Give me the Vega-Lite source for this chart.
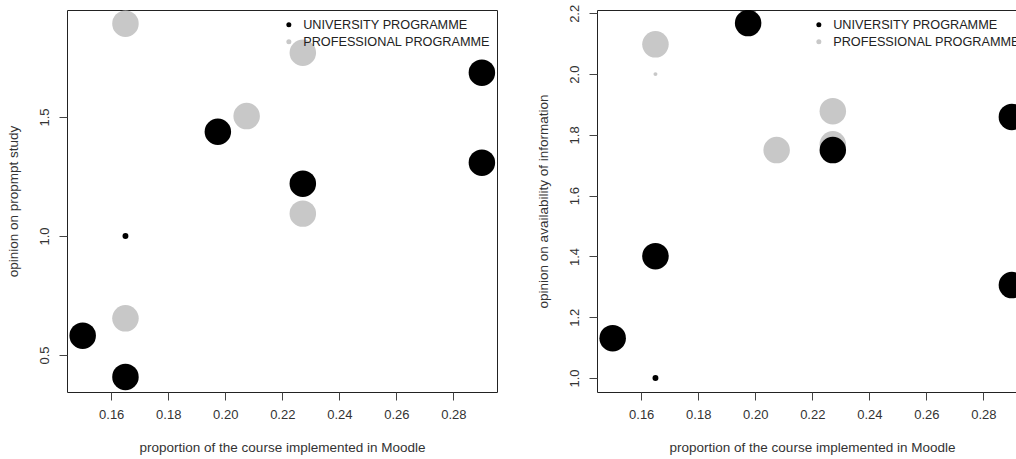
{
  "$schema": "https://vega.github.io/schema/vega-lite/v6.json",
  "padding": {"left": 5, "top": 3, "right": 0, "bottom": 0},
  "background": "white",
  "spacing": 37,
  "config": {
    "font": "Liberation Sans",
    "view": {"stroke": "#222222", "strokeWidth": 1},
    "axis": {
      "grid": false,
      "domain": false,
      "tickSize": 8,
      "tickColor": "#444444",
      "labelFont": "Liberation Sans",
      "labelFontSize": 13,
      "labelColor": "#333333",
      "titleFont": "Liberation Sans",
      "titleFontSize": 13.5,
      "titleFontWeight": "normal",
      "titleColor": "#333333",
      "labelOverlap": false,
      "labelFlush": false
    },
    "axisX": {"labelPadding": 8.5, "titlePadding": 19},
    "axisY": {"labelAngle": 270, "labelAlign": "center", "labelBaseline": "bottom", "labelPadding": 8, "titlePadding": 18},
    "legend": {
      "orient": "none",
      "legendX": 215.5,
      "legendY": 8.5,
      "title": null,
      "symbolType": "circle",
      "symbolSize": 25,
      "symbolStrokeWidth": 0,
      "labelFont": "Liberation Sans",
      "labelFontSize": 12.7,
      "labelColor": "#222222",
      "labelOffset": 8,
      "labelLimit": 400,
      "rowPadding": 3,
      "padding": 0
    }
  },
  "datasets": {
    "prompt": [
      {"proportion": 0.165, "opinion": 1.892, "programme": "PROFESSIONAL PROGRAMME", "weight": 20},
      {"proportion": 0.165, "opinion": 0.654, "programme": "PROFESSIONAL PROGRAMME", "weight": 20},
      {"proportion": 0.2075, "opinion": 1.504, "programme": "PROFESSIONAL PROGRAMME", "weight": 20},
      {"proportion": 0.2272, "opinion": 1.770, "programme": "PROFESSIONAL PROGRAMME", "weight": 20},
      {"proportion": 0.2272, "opinion": 1.094, "programme": "PROFESSIONAL PROGRAMME", "weight": 20},
      {"proportion": 0.150, "opinion": 0.581, "programme": "UNIVERSITY PROGRAMME", "weight": 20},
      {"proportion": 0.165, "opinion": 0.408, "programme": "UNIVERSITY PROGRAMME", "weight": 20},
      {"proportion": 0.165, "opinion": 1.000, "programme": "UNIVERSITY PROGRAMME", "weight": 1},
      {"proportion": 0.1974, "opinion": 1.438, "programme": "UNIVERSITY PROGRAMME", "weight": 20},
      {"proportion": 0.2272, "opinion": 1.220, "programme": "UNIVERSITY PROGRAMME", "weight": 20},
      {"proportion": 0.290, "opinion": 1.686, "programme": "UNIVERSITY PROGRAMME", "weight": 20},
      {"proportion": 0.290, "opinion": 1.308, "programme": "UNIVERSITY PROGRAMME", "weight": 20}
    ],
    "info": [
      {"proportion": 0.165, "opinion": 2.098, "programme": "PROFESSIONAL PROGRAMME", "weight": 20},
      {"proportion": 0.165, "opinion": 2.000, "programme": "PROFESSIONAL PROGRAMME", "weight": 0.45},
      {"proportion": 0.2075, "opinion": 1.750, "programme": "PROFESSIONAL PROGRAMME", "weight": 20},
      {"proportion": 0.2272, "opinion": 1.878, "programme": "PROFESSIONAL PROGRAMME", "weight": 20},
      {"proportion": 0.2272, "opinion": 1.769, "programme": "PROFESSIONAL PROGRAMME", "weight": 20},
      {"proportion": 0.150, "opinion": 1.131, "programme": "UNIVERSITY PROGRAMME", "weight": 20},
      {"proportion": 0.165, "opinion": 1.401, "programme": "UNIVERSITY PROGRAMME", "weight": 20},
      {"proportion": 0.165, "opinion": 1.000, "programme": "UNIVERSITY PROGRAMME", "weight": 1},
      {"proportion": 0.1975, "opinion": 2.168, "programme": "UNIVERSITY PROGRAMME", "weight": 20},
      {"proportion": 0.2272, "opinion": 1.750, "programme": "UNIVERSITY PROGRAMME", "weight": 20},
      {"proportion": 0.290, "opinion": 1.859, "programme": "UNIVERSITY PROGRAMME", "weight": 20},
      {"proportion": 0.290, "opinion": 1.306, "programme": "UNIVERSITY PROGRAMME", "weight": 20}
    ]
  },
  "hconcat": [
    {
      "width": 430,
      "height": 382,
      "data": {"name": "prompt"},
      "mark": {"type": "point", "filled": true, "shape": "circle", "opacity": 1, "clip": true},
      "encoding": {
        "x": {"field": "proportion", "type": "quantitative",
              "scale": {"domain": [0.1445, 0.2953], "nice": false, "zero": false},
              "axis": {"values": [0.16, 0.18, 0.20, 0.22, 0.24, 0.26, 0.28], "format": ".2f",
                       "title": "proportion of the course implemented in Moodle"}},
        "y": {"field": "opinion", "type": "quantitative",
              "scale": {"domain": [0.3445, 1.9496], "nice": false, "zero": false},
              "axis": {"values": [0.5, 1.0, 1.5], "format": ".1f", "title": "opinion on propmpt study"}},
        "color": {"field": "programme", "type": "nominal",
                  "scale": {"domain": ["UNIVERSITY PROGRAMME", "PROFESSIONAL PROGRAMME"], "range": ["#000000", "#c8c8c8"]}},
        "size": {"field": "weight", "type": "quantitative",
                 "scale": {"domain": [0, 20], "range": [0, 702], "zero": true}, "legend": null}
      }
    },
    {
      "width": 430,
      "height": 382,
      "data": {"name": "info"},
      "mark": {"type": "point", "filled": true, "shape": "circle", "opacity": 1, "clip": true},
      "encoding": {
        "x": {"field": "proportion", "type": "quantitative",
              "scale": {"domain": [0.1445, 0.2953], "nice": false, "zero": false},
              "axis": {"values": [0.16, 0.18, 0.20, 0.22, 0.24, 0.26, 0.28], "format": ".2f",
                       "title": "proportion of the course implemented in Moodle"}},
        "y": {"field": "opinion", "type": "quantitative",
              "scale": {"domain": [0.954, 2.211], "nice": false, "zero": false},
              "axis": {"values": [1.0, 1.2, 1.4, 1.6, 1.8, 2.0, 2.2], "format": ".1f", "title": "opinion on availability of information"}},
        "color": {"field": "programme", "type": "nominal",
                  "scale": {"domain": ["UNIVERSITY PROGRAMME", "PROFESSIONAL PROGRAMME"], "range": ["#000000", "#c8c8c8"]}},
        "size": {"field": "weight", "type": "quantitative",
                 "scale": {"domain": [0, 20], "range": [0, 702], "zero": true}, "legend": null}
      }
    }
  ],
  "resolve": {"scale": {"x": "independent", "y": "independent", "color": "independent", "size": "independent"}, "legend": {"color": "independent"}}
}
